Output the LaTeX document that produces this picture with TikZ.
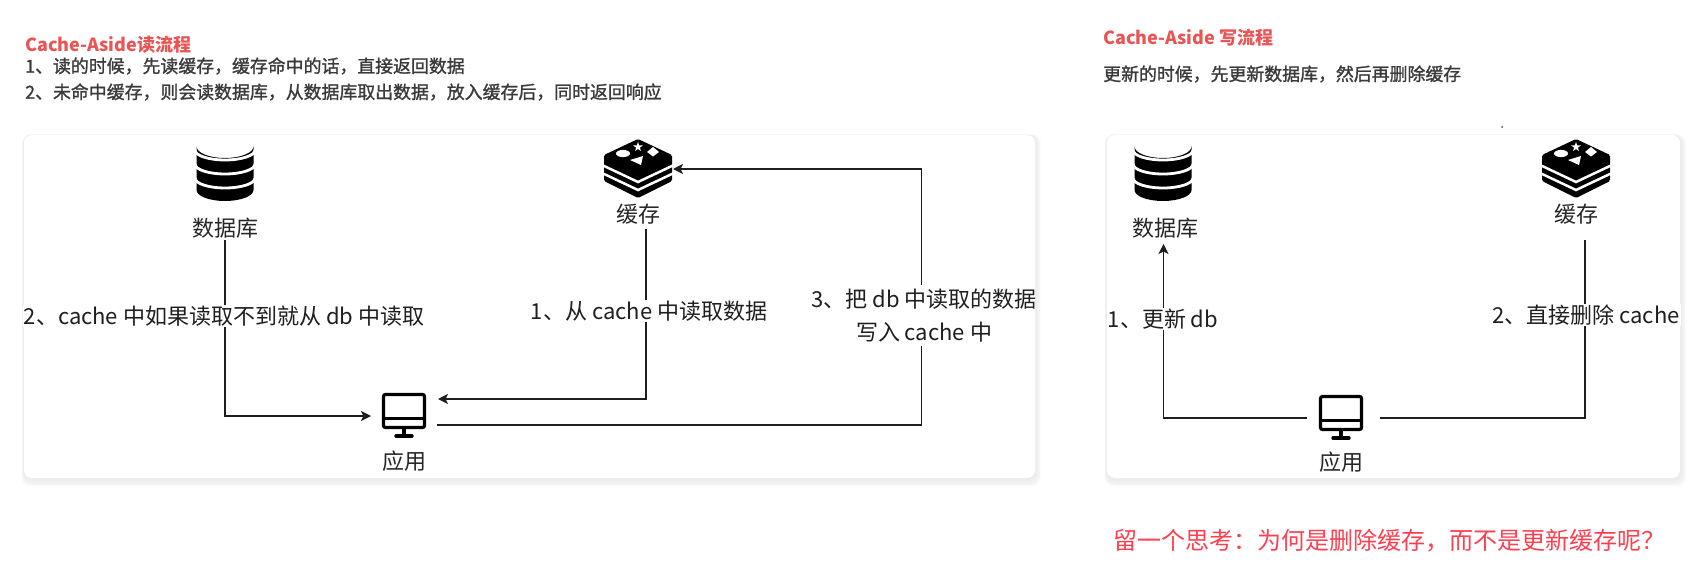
\documentclass[tikz,border=0pt]{standalone}
\usepackage{fontspec}
\setmainfont{Noto Sans CJK SC}
\newfontfamily\medf[FakeBold=1.2]{Noto Sans CJK SC}
\usetikzlibrary{arrows.meta,calc}
\definecolor{titlered}{HTML}{EA5455}
\definecolor{noteink}{HTML}{3A3A3A}
\definecolor{thinkred}{HTML}{FF4050}
\definecolor{lineink}{HTML}{1E1E1E}
\tikzset{
  x=1pt,y=-1pt,
  card/.style={fill=white,rounded corners=8pt},
  titletext/.style={anchor=west,inner sep=0pt,text=titlered,font=\fontsize{18}{21}\selectfont\bfseries},
  notetext/.style={anchor=west,inner sep=0pt,text=noteink,font=\fontsize{17.9}{21}\selectfont\medf},
  thinktext/.style={anchor=center,inner sep=0pt,text=thinkred,font=\fontsize{24}{29}\selectfont},
  iconlabel/.style={inner sep=2pt,text=black!85,font=\fontsize{22}{26}\selectfont},
  plainlabel/.style={inner sep=1pt,align=center,text=black!88,font=\fontsize{22}{33}\selectfont},
  flowlabel/.style={plainlabel,fill=white},
  iconbox/.style={inner sep=0pt,minimum width=#1,minimum height=#1},
  flow/.style={draw=lineink,line width=1.3pt},
  flowarrow/.style={flow,-{Stealth[length=10pt,width=10pt,inset=2.5pt]}},
  dbicon/.pic={
    \fill[black] (-28.5,11.5) arc[start angle=180,end angle=360,x radius=28.5,y radius=-11.5]
       -- (28.5,55) arc[start angle=0,end angle=180,x radius=28.5,y radius=11]  -- cycle;
    \foreach \yy in {15,29,43}{
      \draw[white,line width=2.8pt] (-30,\yy) arc[start angle=180,end angle=0,x radius=30,y radius=10];
    }
  },
  redisicon/.pic={
    \fill[black,rounded corners=1.5pt] (0,0) -- (34,16) -- (34,42) -- (0,59) -- (-34,42) -- (-34,16) -- cycle;
    \draw[white,line width=2.5pt] (-36,26) -- (0,43) -- (36,26);
    \draw[white,line width=2.5pt] (-36,34) -- (0,51) -- (36,34);
    \fill[white] (-15,14.5) ellipse[x radius=7,y radius=3.6];
    \fill[white] (15,8) -- (21,13) -- (15,17.5) -- (9,13) -- cycle;
    \fill[white] (-8,21) -- (5,17) -- (3,26) -- cycle;
    \begin{scope}[shift={(0,8)}]
      \fill[white] (0,-5) -- (1.2,-1.6) -- (4.8,-1.5) -- (1.9,.6) -- (2.9,4) -- (0,2) -- (-2.9,4) -- (-1.9,.6) -- (-4.8,-1.5) -- (-1.2,-1.6) -- cycle;
    \end{scope}
  },
  monitoricon/.pic={
    \draw[black,line width=3.2pt,rounded corners=2pt] (-20.5,-20.5) rectangle (20.5,12.5);
    \draw[black,line width=3.2pt] (-20.5,3.5) -- (20.5,3.5);
    \draw[black,line width=3.2pt] (0,12.5) -- (0,20);
    \draw[black,line width=3.4pt,line cap=round] (-8,21) -- (8,21);
  },
}
\newcommand{\softcard}[4]{%
  \foreach \gg/\oo in {8/.012,6/.03,4/.015,2/.015}{
    \fill[black,opacity=\oo,rounded corners=9pt] (#1-\gg*.3,#2-\gg*.1) rectangle (#3+\gg*.8,#4+\gg+1);
  }
  \fill[card] (#1,#2) rectangle (#3,#4);
}
\begin{document}
\begin{tikzpicture}
\useasboundingbox (0,0) rectangle (1694,575);
\fill[white] (0,0) rectangle (1694,575);

% notes, left
\node[titletext] (titleL) at (25,45) {Cache-Aside读流程};
\node[notetext] (noteLa) at (25,66) {1、读的时候，先读缓存，缓存命中的话，直接返回数据};
\node[notetext] (noteLb) at (25,92) {2、未命中缓存，则会读数据库，从数据库取出数据，放入缓存后，同时返回响应};

% notes, right
\node[titletext] (titleR) at (1103,38) {Cache-Aside 写流程};
\node[notetext] (noteR) at (1103,74) {更新的时候，先更新数据库，然后再删除缓存};
\fill[black!70] (1502,127) circle[radius=1];

% cards
\softcard{24}{135}{1035}{478}
\softcard{1107}{135}{1680}{478}

% left card icons
\node[iconbox=57pt] (dbL) at (225,168) {};
\pic at (225,135) {dbicon};
\node[iconlabel] (dbLlabel) at (225,228) {数据库};
\node[iconbox=64pt] (cacheL) at (638,168) {};
\pic at (638,139) {redisicon};
\node[iconlabel] (cacheLlabel) at (638,214) {缓存};
\node[iconbox=44pt] (appL) at (404,415) {};
\pic at (404,415) {monitoricon};
\node[iconlabel] (appLlabel) at (404,461) {应用};

% left card connectors
\coordinate (appLin1) at (371,416);
\coordinate (appLin2) at (438,399);
\coordinate (appLout) at (437,425);
\coordinate (cacheLin) at (673,169);
\coordinate (cacheLout) at (646,229);
\coordinate (loopCorner) at (921.5,425);
\draw[flowarrow] (dbLlabel.south) |- (appLin1);
\draw[flowarrow] (cacheLout) |- (appLin2);
\draw[flowarrow] (appLout) -- (loopCorner) |- (cacheLin);
\fill[white] (912,285) rectangle (931,346);
\node[flowlabel] (readDb) at (224,316) {2、cache 中如果读取不到就从 db 中读取};
\node[flowlabel] (readCache) at (649,311) {1、从 cache 中读取数据};
\node[plainlabel] (writeBack) at (924,316) {3、把 db 中读取的数据\\写入 cache 中};

% right card icons
\node[iconbox=57pt] (dbR) at (1163,168) {};
\pic at (1163,135) {dbicon};
\node[iconlabel] (dbRlabel) at (1165,228) {数据库};
\node[iconbox=64pt] (cacheR) at (1576,168) {};
\pic at (1576,139) {redisicon};
\node[iconlabel] (cacheRlabel) at (1576,214) {缓存};
\node[iconbox=44pt] (appR) at (1341,417) {};
\pic at (1341,417) {monitoricon};
\node[iconlabel] (appRlabel) at (1341,462) {应用};

% right card connectors
\coordinate (dbRin) at (1163.5,244);
\coordinate (cacheRin) at (1585,240);
\coordinate (appRoutL) at (1307,418);
\coordinate (appRoutR) at (1380,418);
\draw[flowarrow] (appRoutL) -| (dbRin);
\draw[flow] (appRoutR) -| (cacheRin);
\node[flowlabel] (updDb) at (1163,319) {1、更新 db};
\node[flowlabel] (delCache) at (1586,315) {2、直接删除 cache};

% question
\node[thinktext] (think) at (1389,541) {留一个思考：为何是删除缓存，而不是更新缓存呢？};
\end{tikzpicture}
\end{document}
